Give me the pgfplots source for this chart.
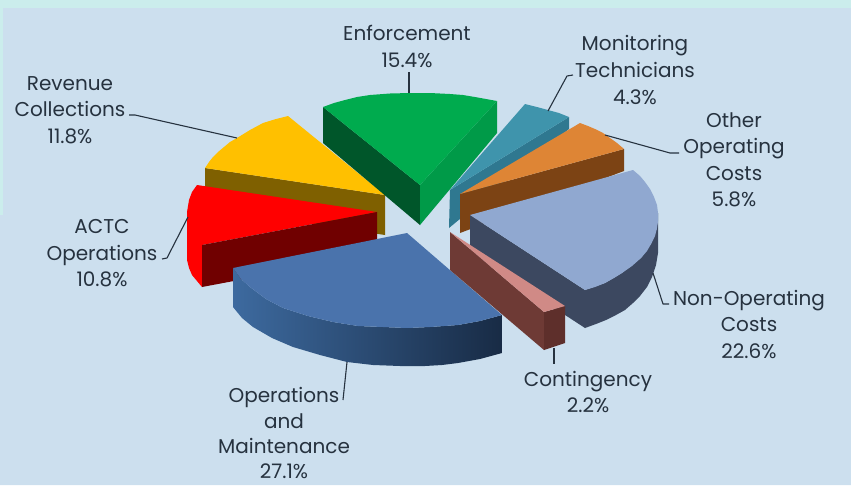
\documentclass[border=0pt]{standalone}
\usepackage{pgfplots}
\usepackage{fontspec}
\pgfplotsset{compat=1.18}
\setmainfont{Poppins}
\definecolor{panel}{HTML}{CCDFEE}
\definecolor{rim}{HTML}{CBEDEC}
\definecolor{ink}{HTML}{26323F}
\definecolor{revTop}{HTML}{FFC000}
\definecolor{revSide}{HTML}{7F6000}
\definecolor{actcTop}{HTML}{FF0000}
\definecolor{actcSide}{HTML}{700000}
\definecolor{enfTop}{HTML}{00AB4E}
\definecolor{enfLeft}{HTML}{00562A}
\definecolor{enfRight}{HTML}{009A48}
\definecolor{monTop}{HTML}{3F94AC}
\definecolor{monSide}{HTML}{2F7890}
\definecolor{othTop}{HTML}{DE8535}
\definecolor{othSide}{HTML}{7C4314}
\definecolor{nonTop}{HTML}{90A8D0}
\definecolor{nonSide}{HTML}{3C4860}
\definecolor{opsTop}{HTML}{4A73AC}
\definecolor{opsA}{HTML}{3D6A9F}
\definecolor{opsB}{HTML}{182B45}
\definecolor{conTop}{HTML}{D08A86}
\definecolor{conLeft}{HTML}{6E3A35}
\definecolor{conFront}{HTML}{5E2F2B}
\pgfplotsset{
  face/.style={draw=none,fill=#1,no marks},
  leader/.style={draw=ink,line width=1.1pt,no marks,line join=round},
}
\newcommand{\lbl}[3]{\node[anchor=base,inner sep=0pt,text=ink,font=\fontsize{20}{24}\selectfont] at (axis cs:#1,#2) {#3};}
\begin{document}
\begin{tikzpicture}
\begin{axis}[
  width=851pt,height=485pt,scale only axis,
  xmin=0,xmax=851,ymin=0,ymax=485,y dir=reverse,
  hide axis,clip=true,
]
% backdrop
\addplot[face=rim] coordinates {(0,0)(851,0)(851,485)(0,485)};
\addplot[face=panel] coordinates {(3,8)(851,8)(851,485)(0,485)(0,215)(3,215)};
% revenue collections
\addplot[face=revSide] coordinates {(205,168)(385,195)(385,235)(205,208)};
\addplot[face=revTop] coordinates {(385,195)(205,168)(209,162)(213,157)(218,152)(224,147)(230,142)(237,138)(250,130)(263,123)(276,119)(288,116)};
% ACTC operations
\addplot[face=actcTop] coordinates {(377,212)(197,185)(192,192)(189,200)(187,212)(187,222)(187,260)(189,268)(192,275)(197,281)(202,287)(202,245)};
\addplot[face=actcSide] coordinates {(202,245)(377,212)(377,254)(202,287)};
% enforcement
\addplot[face=enfLeft] coordinates {(323,107)(420,185)(420,225)(323,143)};
\addplot[face=enfRight] coordinates {(497,101)(420,185)(420,225)(497,133)};
\addplot[face=enfTop] coordinates {(420,185)(323,107)(334,103)(345,100)(357,97)(370,95)(390,93.5)(410,93)(430,93)(450,94)(463,95)(475,97)(486,99)(497,101)};
% monitoring technicians
\addplot[face=monSide] coordinates {(450,190)(569,117)(569,129)(449,228)};
\addplot[face=monTop] coordinates {(450,190)(525,104)(537,107)(548,110)(559,113)(569,117)};
% other operating costs
\addplot[face=othSide] coordinates {(460,194)(624,149)(624,171)(460,233)};
\addplot[face=othTop] coordinates {(460,194)(580,123)(588,126)(595,129)(603,133)(610,138)(617,143)(624,149)};
% non-operating costs
\addplot[face=nonSide] coordinates {(470,215)(585,290)(585,328)(470,253)};
\addplot[face=nonSide] coordinates {(658,213)(657,228)(651,244)(641,258)(622,273)(605,283)(585,290)(585,328)(596,324)(606,320)(616,315)(625,310)(633,303)(640,296)(647,287)(652,277)(656,265)(658,253)};
\addplot[face=nonTop] coordinates {(470,215)(633,170)(640,176)(645,182)(650,189)(654,197)(657,205)(658,213)(658,221)(657,228)(655,236)(651,244)(647,251)(641,258)(632,266)(622,273)(614,278)(605,283)(595,287)(585,290)};
% operations and maintenance
\addplot[draw=none,no marks,left color=opsA,right color=opsB] coordinates {(233,268)(241,279)(250,287)(266,299)(283,308)(308,316)(333,322)(358,326)(383,327)(407,328)(430,327)(458,325)(480,321)(502,315)(502,353)(480,359)(458,363)(442,365)(425,366)(400,366)(373,365)(347,362)(320,355)(293,347)(272,338)(253,327)(242,318)(233,307)};
\addplot[face=opsTop] coordinates {(407,233)(233,268)(241,279)(250,287)(266,299)(283,308)(308,316)(333,322)(358,326)(383,327)(407,328)(430,327)(458,325)(480,321)(502,315)};
% contingency
\addplot[face=conLeft] coordinates {(450,232)(544,312)(544,350)(450,270)};
\addplot[face=conFront] coordinates {(544,312)(565,306)(565,343)(544,350)};
\addplot[face=conTop] coordinates {(450,232)(565,306)(544,312)};
% leader lines
\addplot[leader] coordinates {(409,72)(409,93)};
\addplot[leader] coordinates {(129,115)(135,115)(237,138)};
\addplot[leader] coordinates {(162,259)(167,258)(188,217)};
\addplot[leader] coordinates {(573,75)(567,76)(548,111)};
\addplot[leader] coordinates {(605,135)(670,153)(679,153)};
\addplot[leader] coordinates {(653,273)(663,304)(669,304)};
\addplot[leader] coordinates {(554,348)(554,364)};
\addplot[leader] coordinates {(347,362)(343,400)};
% labels, one line at a time, placed on their baselines
\lbl{407}{40}{Enforcement}
\lbl{407}{67}{15.4\%}
\lbl{635}{50}{Monitoring}
\lbl{635}{77}{Technicians}
\lbl{635}{104}{4.3\%}
\lbl{734}{127}{Other}
\lbl{734}{153}{Operating}
\lbl{734}{180}{Costs}
\lbl{734}{206}{5.8\%}
\lbl{70}{90}{Revenue}
\lbl{70}{116}{Collections}
\lbl{70}{143}{11.8\%}
\lbl{102}{233}{ACTC}
\lbl{102}{260}{Operations}
\lbl{102}{286}{10.8\%}
\lbl{284}{402}{Operations}
\lbl{284}{428}{and}
\lbl{284}{453}{Maintenance}
\lbl{284}{478}{27.1\%}
\lbl{588}{386}{Contingency}
\lbl{588}{412}{2.2\%}
\lbl{749}{305}{Non-Operating}
\lbl{749}{331}{Costs}
\lbl{749}{358}{22.6\%}
\end{axis}
\end{tikzpicture}
\end{document}
